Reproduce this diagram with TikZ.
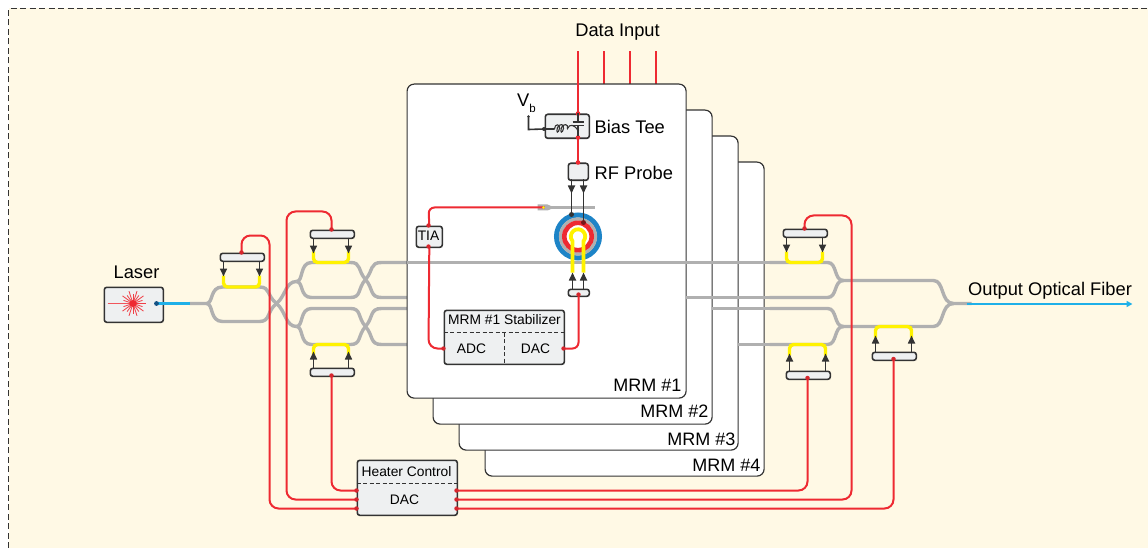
\documentclass[tikz,border=0pt]{standalone}
\usepackage{fontspec}
\setmainfont{Liberation Sans}
\usetikzlibrary{arrows.meta,calc,decorations.pathmorphing}
\definecolor{cream}{HTML}{FFF9E5}
\definecolor{wg}{HTML}{B0B0B0}
\definecolor{rd}{HTML}{EE2A32}
\definecolor{yl}{HTML}{FFF200}
\definecolor{bl}{HTML}{1FB0E8}
\definecolor{rb}{HTML}{1C75BC}
\definecolor{dk}{HTML}{333333}
\definecolor{bx}{HTML}{EEF0F1}
\tikzset{
 wgline/.style={draw=wg,line width=3.4pt},
 heat/.style={draw=yl,line width=3.4pt,rounded corners=4pt},
 redw/.style={draw=rd,line width=2pt,rounded corners=9pt},
 card/.style={draw=dk,line width=1.2pt,fill=white,rounded corners=7pt,minimum width=279pt,minimum height=314pt,anchor=north west,inner sep=0},
 bbox/.style={draw=dk,line width=1.6pt,fill=bx,rounded corners=2.5pt,inner sep=0,anchor=north west},
 htr/.style={bbox,minimum width=44pt,minimum height=8pt},
 arw/.style={draw=dk,line width=1.6pt,-{Triangle[length=8pt,width=7pt]}},
 dotr/.style={circle,fill=rd!90!black,inner sep=0,minimum size=4.5pt},
 lab/.style={font=\fontsize{18.3}{22}\selectfont,inner sep=0,text=black},
 mlab/.style={font=\fontsize{18}{22}\selectfont,inner sep=0,anchor=east,text=black},
 slab/.style={font=\fontsize{13.8}{16}\selectfont,inner sep=0,text=black},
}
\begin{document}
\begin{tikzpicture}[x=1pt,y=-1pt]
\useasboundingbox (0,0) rectangle (1148,548);
\fill[white] (0,0) rectangle (1148,548);
\fill[cream] (8.5,8.5) rectangle (1148,548);
\coordinate (bgA) at (8.5,548); \coordinate (bgB) at (8.5,8.5); \coordinate (bgC) at (1148,8.5);
\draw[dk,line width=1pt,dash pattern=on 6pt off 3.5pt] (bgA) -- (bgB) -- (bgC);
\begin{scope}[shift={(-0.5,-0.5)}]

% data input
\node[lab] (datain) at (618,33) {Data Input};
\foreach \n/\x in {a/578.5,b/604.5,c/630.5,d/656.5}{\coordinate (in\n) at (\x,52);\coordinate (inb\n) at (\x,90);\draw[rd,line width=2pt] (in\n) -- (inb\n);}

% waveguides left of the cards
\draw[wgline] (190,304) -- (207,304) .. controls (214,304) and (210,287.5) .. (223,287.5) -- (260,287.5) .. controls (271,287.5) and (267,296) .. (277,304) .. controls (286,311) and (286,327) .. (297,327);
\draw[wgline] (207,304) .. controls (214,304) and (210,322) .. (223,322) -- (260,322) .. controls (271,322) and (267,312) .. (277,304) .. controls (286,297) and (286,282) .. (297,282);
\draw[wgline] (297,282) .. controls (304,282) and (300,263) .. (312,263) -- (351,263) .. controls (362,263) and (358,271) .. (366,280) .. controls (374,289) and (370,298) .. (382,298) -- (420,298);
\draw[wgline] (297,282) .. controls (304,282) and (300,298) .. (312,298) -- (351,298) .. controls (362,298) and (358,289) .. (366,280) .. controls (374,271) and (370,263) .. (382,263) -- (420,263);
\draw[wgline] (297,327) .. controls (304,327) and (300,309) .. (312,309) -- (351,309) .. controls (362,309) and (358,318) .. (366,327) .. controls (374,336) and (370,345) .. (382,345) -- (420,345);
\draw[wgline] (297,327) .. controls (304,327) and (300,345) .. (312,345) -- (351,345) .. controls (362,345) and (358,336) .. (366,327) .. controls (374,318) and (370,309) .. (382,309) -- (420,309);

% right waveguides
\draw[wgline] (770,263) -- (828,263) .. controls (838,263) and (834,281) .. (844,281) -- (934,281) .. controls (945,281) and (941,304) .. (954,304) -- (972,304);
\draw[wgline] (770,298) -- (828,298) .. controls (838,298) and (834,281) .. (844,281);
\draw[wgline] (770,309) -- (828,309) .. controls (838,309) and (834,327) .. (844,327) -- (934,327) .. controls (945,327) and (941,304) .. (954,304);
\draw[wgline] (770,345) -- (828,345) .. controls (838,345) and (834,327) .. (844,327);

% cards
\node[card] (m4) at (485,162) {};
\node[card] (m3) at (459,136) {};
\node[card] (m2) at (433,110) {};
\node[card] (m1) at (407,84) {};
\draw[wgline] (738,345) -- (772,345);
\draw[wgline] (712,309) -- (772,309);
\draw[wgline] (686,298) -- (772,298);
\draw[wgline] (407,263) -- (772,263);
\node[mlab] (lm1) at (682,386) {MRM \#1};
\node[mlab] (lm2) at (709,412) {MRM \#2};
\node[mlab] (lm3) at (736,440) {MRM \#3};
\node[mlab] (lm4) at (761,466) {MRM \#4};

% yellow heaters
\draw[heat] (224,276) -- (224,287.5) -- (260,287.5) -- (260,276);
\draw[heat] (314,252) -- (314,263) -- (349,263) -- (349,252);
\draw[heat] (314,356) -- (314,345) -- (349,345) -- (349,356);
\draw[heat] (787,252) -- (787,263) -- (823,263) -- (823,252);
\draw[heat] (790,356) -- (790,345) -- (826,345) -- (826,356);
\draw[heat] (876,338) -- (876,327) -- (912,327) -- (912,338);

% heater pads
\node[htr] (h1) at (220,253) {};
\node[htr] (h2) at (310,230) {};
\node[htr] (h3) at (310,368) {};
\node[htr] (h4) at (783,229) {};
\node[htr] (h5) at (786,371) {};
\node[htr] (h6) at (872,352) {};
\draw[arw] (224,261) -- (224,277); \draw[arw] (260,261) -- (260,277);
\draw[arw] (314,238) -- (314,254); \draw[arw] (349,238) -- (349,254);
\draw[arw] (314,368) -- (314,352); \draw[arw] (349,368) -- (349,352);
\draw[arw] (787,237) -- (787,253); \draw[arw] (823,237) -- (823,253);
\draw[arw] (790,371) -- (790,354); \draw[arw] (826,371) -- (826,354);
\draw[arw] (876,352) -- (876,336); \draw[arw] (912,352) -- (912,336);

% heater control
\node[bbox,minimum width=100pt,minimum height=55pt] (hc) at (357,460) {};
\draw[dk,line width=1.6pt,dash pattern=on 4pt off 2.5pt] (357,484) -- (457,484);
\node[slab] (hct) at (407,472) {Heater Control};
\node[slab] (hcd) at (405,500) {DAC};
\foreach \n/\y in {1/491,2/500,3/509}{
 \coordinate (pl\n) at (357,\y); \coordinate (pr\n) at (457,\y);}
\draw[redw] (pl3) -- (270,509) -- (270,236) -- (242,236) -- (242,253);
\draw[redw] (pl2) -- (287,500) -- (287,212) -- (332,212) -- (332,230);
\draw[redw] (pl1) -- (332,491) -- (332,376);
\draw[redw] (pr1) -- (808,491) -- (808,379);
\draw[redw] (pr2) -- (852,500) -- (852,216) -- (805,216) -- (805,229);
\draw[redw] (pr3) -- (894,509) -- (894,360);
\foreach \n in {1,2,3}{\node[dotr] at (pl\n) {};\node[dotr] at (pr\n) {};}
\node[dotr] at (242,253) {};
\node[dotr] at (332,230) {};
\node[dotr] at (332,376) {};
\node[dotr] at (805,229) {};
\node[dotr] at (808,378.5) {};
\node[dotr] at (894,359.5) {};

% laser
\node[lab] (lt) at (137,273) {Laser};
\node[bbox,minimum width=59pt,minimum height=35pt] (laser) at (104,287) {};
\coordinate (lc) at (133.5,304);
\foreach \a in {0,18,...,342}{\draw[rd!90,line width=0.8pt] (lc) -- ++(\a:{mod(\a,36)==0 ? 13 : 10});}
\draw[rd!80,line width=1.1pt] (108,304) -- (lc);
\fill[rd] (lc) circle (3.5pt);
\coordinate (lout) at (157,304); \coordinate (lend) at (190,304);
\draw[bl,line width=2.2pt] (lout) -- (lend);
\fill[rb!70!black] (lout) circle (2.4pt);

% output fiber
\coordinate (fo) at (967,304.5); \coordinate (fe) at (1133,304.5);
\draw[bl,line width=2.2pt,-{Triangle[length=6pt,width=6pt]}] (fo) -- (fe);
\node[lab] (ot) at (1050.5,291) {Output Optical Fiber};

% bias tee
\node[bbox,minimum width=44pt,minimum height=24pt] (bt) at (545,114) {};
\node[bbox,minimum width=20pt,minimum height=17pt] (rf) at (568,163) {};
\draw[rd,line width=2pt] (ina) -- (578.5,114);
\draw[rd,line width=2pt] (578.5,138) -- (578.5,163);
\fill[rd] (578.5,114) circle (2.3pt);
\fill[rd] (578.5,163) circle (2.3pt);
\fill[rd] (578.5,138) circle (2.3pt);
\draw[dk,line width=1.2pt] (578.5,114) -- (578.5,122);
\draw[dk,line width=1.4pt] (573,122.5) -- (584,122.5);
\draw[dk,line width=1.4pt] (573,126) -- (584,126);
\draw[dk,line width=1.2pt] (578.5,126) -- (578.5,137);
\coordinate (vb) at (529,117);
\coordinate (btl) at (544.5,129.5);
\draw[dk,line width=1.6pt] (vb) -- (529,130) -- (btl) -- (555,129.5);
\draw[dk,line width=1.1pt] (555,129.5) .. controls (555,124) and (561,124) .. (560,129) .. controls (559,134) and (556,134) .. (558,128) .. controls (560,124) and (565,124) .. (564,129) .. controls (563,134) and (560,134) .. (562,128) .. controls (564,124) and (569,124) .. (568,129) .. controls (570,124) and (575,125) .. (578.5,131);
\fill[dk] (btl) circle (2pt);
\fill[dk] (vb) circle (1.3pt);
\fill[dk] (578.5,131) circle (1.2pt);
\node[lab,anchor=west] (btt) at (595,127) {Bias Tee};
\node[lab,anchor=west] (rft) at (595,173) {RF Probe};
\node[lab,anchor=center] (vbt) at (527,104) {V\raisebox{-6pt}{\fontsize{11.5}{12}\selectfont b}};

% photodiode waveguide
\coordinate (pds) at (540,208); \coordinate (pde) at (595,208);
\draw[wg,line width=2.6pt] (pds) -- (pde);
\fill[wg] (538,205) -- (548,205) -- (552,206.7) -- (552,209.3) -- (548,211) -- (538,211) -- cycle;

% ring
\coordinate (ring) at (578.5,237);
\draw[rb!75!bl,line width=5pt] (ring) circle (21.5pt);
\draw[wg,line width=3.2pt] (ring) circle (17.5pt);
\draw[rd,line width=4.6pt] (ring) circle (13.7pt);
\draw[yl,line width=3.8pt] (573,273) -- (573,241.6) arc (220:-40:7.2pt) -- (584,273);
\draw[arw] (572,180) -- (572,194); \draw[arw] (584,180) -- (584,194);
\draw[dk,line width=1.6pt] (572,190) -- (572,215);
\draw[dk,line width=1.6pt] (584,190) -- (584,223);
\fill[dk] (572,215) circle (2.5pt);
\fill[rd!50!black] (584,223) circle (2.5pt);

% stabiliser
\node[bbox,minimum width=120pt,minimum height=54pt] (stab) at (444,310) {};
\draw[dk,line width=1.6pt,dash pattern=on 4pt off 2.5pt] (444,333) -- (564,333) (505,333) -- (505,364);
\node[slab] (stt) at (505,320.5) {MRM \#1 Stabilizer};
\node[slab] (adc) at (472,349) {ADC};
\node[slab] (dac) at (536,349) {DAC};
\node[bbox,minimum width=26pt,minimum height=21pt] (tia) at (416,226) {};
\node[slab] at (429,236.5) {TIA};
\node[htr,minimum width=21pt,minimum height=7pt] (ph) at (568,289) {};
\draw[arw] (573,289) -- (573,273); \draw[arw] (584,289) -- (584,273);
\draw[redw,rounded corners=6pt] (tia.north) -- (429,208) -- (545,208);
\draw[redw] (tia.south) -- (429,349) -- (444,349);
\draw[redw,rounded corners=6pt] (564,349) -- (579,349) -- (579,295);
\foreach \p in {(429,226),(429,247),(444,349),(564,349),(579,295)}{\fill[rd!90!black] \p circle (2.2pt);}
\fill[yl] (544,208) circle (1.3pt);
\end{scope}
\end{tikzpicture}
\end{document}
